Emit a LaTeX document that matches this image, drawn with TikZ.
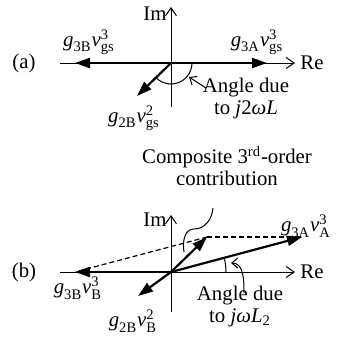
\documentclass[tikz,border=0pt]{standalone}
\usepackage{amsmath}
\usepackage{fontspec}
\setmainfont{Liberation Serif}
\usetikzlibrary{arrows.meta}

\newcommand{\gvec}[3]{$\textit{g}_{\text{#1}}\textit{v}^{\text{#2}}_{\text{#3}}$}

\begin{document}
\begin{tikzpicture}[
    x=0.5pt, y=-0.5pt,
    axis/.style={-{Straight Barb[length=4pt,width=5.5pt]}, line width=0.5pt},
    vec/.style={-{Triangle[length=7.5pt,width=5pt]}, line width=1.1pt},
    ptr/.style={-{Straight Barb[length=3pt,width=5pt]}, line width=0.5pt},
    guide/.style={line width=0.6pt, dash pattern=on 2.5pt off 1.5pt},
    lbl/.style={font=\fontsize{10.4}{11}\selectfont, inner sep=0pt},
    note/.style={lbl, align=center}
]
\useasboundingbox (0,0) rectangle (347,343);

% (a) phasors
\coordinate (Oa)   at (171,63);
\coordinate (ReLa) at (60,63);
\coordinate (ReRa) at (295,63);
\coordinate (ImBa) at (171,107);
\coordinate (ImTa) at (171,7);
\coordinate (B3a)  at (75,63);
\coordinate (A3a)  at (267,63);
\coordinate (B2a)  at (137,96);
\coordinate (PaS)  at (206,88);
\coordinate (PaE)  at (189,77);

\draw[axis] (ReLa) -- (ReRa);
\draw[axis] (ImBa) -- (ImTa);
\draw[vec] (Oa) -- (B3a);
\draw[vec] (Oa) -- (A3a);
\draw[vec] (Oa) -- (B2a);
\draw[line width=0.5pt] (Oa) ++(21,0) arc[start angle=0, end angle=136, radius=21];
\draw[ptr] (PaS) -- (PaE);

\node[lbl] (taga) at (24,63) {(a)};
\node[lbl, anchor=west] (rea) at (300,63) {Re};
\node[lbl, anchor=east] (ima) at (167,14) {Im};
\node[lbl] (l3Ba) at (89,42) {\gvec{3B}{3}{gs}};
\node[lbl] (l3Aa) at (257,42) {\gvec{3A}{3}{gs}};
\node[lbl] (l2Ba) at (134,118) {\gvec{2B}{2}{gs}};
\node[note] (anga) at (246,98) {Angle due\\to \textit{j}2\textit{ω}\textit{L}};

% (b) phasors
\node[note] (comp) at (227,166) {Composite 3\textsuperscript{rd}-order\\contribution};

\coordinate (Ob)   at (171,272);
\coordinate (ReLb) at (60,272);
\coordinate (ReRb) at (295,272);
\coordinate (ImBb) at (171,312);
\coordinate (ImTb) at (171,215);
\coordinate (B3b)  at (75,272);
\coordinate (A3b)  at (302,237);
\coordinate (Cb)   at (207,237);
\coordinate (B2b)  at (138,296);
\coordinate (PbS)  at (244,293);
\coordinate (PbE)  at (231,263);
\coordinate (Wt)   at (213,208);
\coordinate (Wm)   at (194,229);
\coordinate (Wb)   at (184,252);

\draw[axis] (ReLb) -- (ReRb);
\draw[axis] (ImBb) -- (ImTb);
\draw[guide] (Cb) -- (A3b);
\draw[guide] (Cb) -- (B3b);
\draw[vec] (Ob) -- (B3b);
\draw[vec] (Ob) -- (A3b);
\draw[vec] (Ob) -- (Cb);
\draw[vec] (Ob) -- (B2b);
\draw[line width=0.5pt] (Ob) ++(55,0) arc[start angle=0, end angle=-15, radius=55];
\draw[ptr] (PbS) to[out=90, in=0] (PbE);
\draw[line width=0.5pt] (Wt) to[out=-95, in=0] (Wm) to[out=180, in=100] (Wb);

\node[lbl] (tagb) at (24,272) {(b)};
\node[lbl, anchor=west] (reb) at (300,272) {Re};
\node[lbl, anchor=east] (imb) at (167,220) {Im};
\node[lbl] (l3Ab) at (306,226) {\gvec{3A}{3}{A}};
\node[lbl] (l3Bb) at (78,288) {\gvec{3B}{3}{B}};
\node[lbl] (l2Bb) at (133,321) {\gvec{2B}{2}{B}};
\node[note] (angb) at (240,306) {Angle due\\to \textit{j}\textit{ω}\textit{L}$_{\text{2}}$};
\end{tikzpicture}
\end{document}
